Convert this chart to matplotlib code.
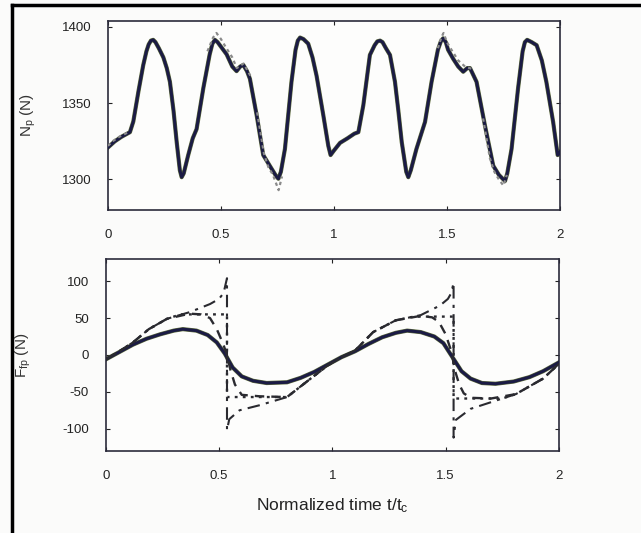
import matplotlib
matplotlib.use("Agg")
import matplotlib.pyplot as plt
from matplotlib.lines import Line2D
import numpy as np

plt.rcParams['font.family'] = ['Liberation Sans', 'DejaVu Sans']
plt.rcParams['mathtext.default'] = 'regular'
plt.rcParams['axes.unicode_minus'] = False

# ---- data: normal force N_p (top panel) ----
np_t = [0.00, 0.03, 0.06, 0.097, 0.112, 0.135, 0.156, 0.17, 0.18, 0.19, 0.20, 0.21, 0.225,
        0.245, 0.26, 0.274, 0.29, 0.304, 0.318, 0.326, 0.335, 0.355, 0.375, 0.392, 0.422,
        0.45, 0.462, 0.473, 0.485, 0.50, 0.525, 0.55, 0.569, 0.585, 0.599, 0.615, 0.628,
        0.658, 0.687, 0.72, 0.745, 0.754, 0.765, 0.783, 0.812, 0.83, 0.84, 0.85, 0.865,
        0.886, 0.905, 0.923, 0.953, 0.975, 0.985, 1.00, 1.027, 1.06, 1.09, 1.108, 1.13,
        1.159, 1.18, 1.192, 1.204, 1.215, 1.23, 1.248, 1.27, 1.285, 1.30, 1.32, 1.329,
        1.34, 1.365, 1.403, 1.432, 1.46, 1.473, 1.483, 1.495, 1.505, 1.528, 1.55, 1.572,
        1.59, 1.602, 1.615, 1.631, 1.668, 1.705, 1.73, 1.75, 1.757, 1.767, 1.786, 1.815,
        1.835, 1.845, 1.855, 1.875, 1.897, 1.92, 1.94, 1.97, 1.99, 2.00]
np_main = [1321, 1325, 1328, 1331, 1338, 1358, 1375, 1384, 1388.5, 1391, 1391.5, 1390, 1386,
           1380, 1373, 1364, 1345, 1324.5, 1306, 1301.5, 1304, 1316, 1327, 1333, 1360,
           1382, 1389, 1391.5, 1390, 1387, 1382, 1374, 1371, 1374, 1375, 1371, 1366,
           1342, 1316, 1308, 1302, 1300.5, 1305, 1320, 1364, 1385, 1391, 1393, 1392,
           1389, 1380, 1368, 1342, 1322, 1316, 1319, 1324, 1327, 1330, 1331, 1348.7,
           1381.6, 1388, 1390.5, 1391, 1390, 1386, 1381.6, 1364, 1345, 1324.5, 1305, 1301.5,
           1306, 1320, 1337.7, 1364, 1385, 1390.5, 1392.5, 1390, 1385, 1379, 1374, 1370.6,
           1373, 1373, 1369, 1364, 1335.5, 1309, 1303, 1300, 1299, 1304, 1320, 1360,
           1384, 1390, 1391.5, 1390, 1388, 1378, 1364, 1337.7, 1316, 1318]

# dotted measured trace, only where it separates from the solid lines (nan = gap)
np_gray_t = [0.00, 0.02, 0.05, 0.09, np.nan, 0.44, 0.465, 0.48, 0.50, 0.52, 0.55, 0.57,
             0.60, 0.63, np.nan, 0.66, 0.69, 0.71, 0.73, 0.745, 0.755, 0.77, np.nan,
             1.46, 1.475, 1.485, 1.50, 1.52, 1.55, 1.58, 1.62, np.nan, 1.66, 1.69, 1.71,
             1.73, 1.75, 1.765]
np_gray = [1322, 1325, 1328, 1331, np.nan, 1384, 1393, 1396, 1392, 1387, 1380, 1373,
           1376, 1368, np.nan, 1344, 1317, 1308, 1303, 1297, 1293, 1302, np.nan,
           1386, 1393, 1396, 1390, 1385, 1378, 1374, 1372, np.nan, 1340, 1314, 1305,
           1300, 1296, 1303]

# ---- data: friction force F_fp (bottom panel) ----
ffp_t = [0.00, 0.06, 0.12, 0.18, 0.24, 0.30, 0.34, 0.40, 0.45, 0.49, 0.525, 0.56, 0.60,
         0.65, 0.71, 0.80, 0.86, 0.92, 0.98, 1.04, 1.10, 1.16, 1.22, 1.28, 1.33, 1.39,
         1.45, 1.49, 1.53, 1.57, 1.61, 1.66, 1.72, 1.80, 1.87, 1.93, 2.00]
ffp_solid = [-6, 4, 14, 22, 28, 33, 35, 33, 27, 17, 2, -17, -29,
             -35, -38, -37, -31, -23, -13, -3, 5, 15, 24, 30, 33, 31,
             25, 16, -3, -22, -32, -38, -39, -36, -30, -22, -10]

dd_t = [0.00, 0.06, 0.12, 0.19, 0.27, 0.37, 0.46, 0.50, 0.52, 0.535, 0.535, 0.545, 0.59,
        0.68, 0.80, 0.90, 0.98, 1.04, 1.10, 1.18, 1.28, 1.39, 1.475, 1.51, 1.525, 1.535,
        1.535, 1.545, 1.61, 1.70, 1.81, 1.93, 2.00]
dd_v = [-6, 5, 17, 35, 49, 58, 69, 76, 84, 104, -102, -87, -75,
        -68, -57, -33, -14, -3, 6, 31, 47, 54, 67, 76, 84, 98,
        -112, -88, -73, -64, -53, -32, -12]

do_t = [0.00, 0.06, 0.12, 0.19, 0.27, 0.33, 0.535, 0.535, 0.80, 0.90, 0.98, 1.04, 1.10,
        1.18, 1.28, 1.36, 1.535, 1.535, 1.75, 1.81, 1.93, 2.00]
do_v = [-6, 5, 17, 35, 49, 55, 55, -57, -57, -33, -14, -3, 6,
        31, 47, 52, 52, -59, -59, -53, -32, -12]

da_t = [0.00, 0.06, 0.12, 0.19, 0.27, 0.37, 0.42, 0.46, 0.49, 0.518, 0.535, 0.55, 0.57,
        0.60, 0.68, 0.80, 0.90, 0.98, 1.04, 1.10, 1.18, 1.28, 1.39, 1.44, 1.47, 1.50,
        1.526, 1.54, 1.56, 1.58, 1.61, 1.70, 1.81, 1.93, 2.00]
da_v = [-6, 5, 17, 35, 49, 56, 55, 50, 35, 15, 0, -20, -40,
        -54, -56, -57, -33, -14, -3, 6, 31, 47, 53, 51, 45, 28,
        4, -20, -40, -52, -58, -59, -53, -32, -12]

x_ticks = [0, 0.5, 1, 1.5, 2]
x_labels = ['0', '0.5', '1', '1.5', '2']
np_ticks = [1300, 1350, 1400]
ffp_ticks = [-100, -50, 0, 50, 100]

navy = '#1b1b44'
olive = '#5d6b3c'
gray = '#8a8a8a'
dark = '#2a2a30'

fig = plt.figure(figsize=(6.41, 5.33), dpi=100)
fig.patch.set_facecolor('#fbfbfa')

ax1 = fig.add_axes([0.1685, 0.606, 0.705, 0.355])
ax2 = fig.add_axes([0.165, 0.154, 0.707, 0.360])

# top panel
ax1.plot(np_t, np_main, color=olive, lw=3.0, zorder=2, solid_joinstyle='round')
ax1.plot(np_t, np_main, color=navy, lw=2.2, zorder=3, solid_joinstyle='round')
ax1.plot(np_gray_t, np_gray, color=gray, lw=1.6, ls=(0, (1.5, 1.5)), zorder=4)
ax1.set_xlim(0, 2)
ax1.set_ylim(1280, 1404)
ax1.set_yticks(np_ticks)
ax1.set_ylabel('N$_p$ (N)', fontsize=11, color='#333333')
ax1.yaxis.set_label_coords(-0.155, 0.5)

# bottom panel
ax2.plot(ffp_t, ffp_solid, color=olive, lw=3.0, zorder=2, solid_joinstyle='round')
ax2.plot(ffp_t, ffp_solid, color=navy, lw=2.2, zorder=3, solid_joinstyle='round')
ax2.plot(dd_t, dd_v, color=dark, lw=1.5, ls=(0, (6, 3, 1.5, 3)), zorder=4)
ax2.plot(do_t, do_v, color=dark, lw=1.7, ls=(0, (1.2, 2.2)), zorder=4)
ax2.plot(da_t, da_v, color=dark, lw=1.7, ls=(0, (4, 3)), zorder=4)
ax2.set_xlim(0, 2)
ax2.set_ylim(-130, 130)
ax2.set_yticks(ffp_ticks)
ax2.set_ylabel('F$_{fp}$ (N)', fontsize=11, color='#333333')
ax2.yaxis.set_label_coords(-0.16, 0.5)
ax2.set_xlabel('Normalized time t/t$_c$', fontsize=12.5, color='#222222', labelpad=10)

for ax in (ax1, ax2):
    ax.set_facecolor('#fdfdfc')
    ax.set_xticks(x_ticks)
    ax.set_xticklabels(x_labels)
    ax.tick_params(direction='in', top=True, right=True, length=3, width=0.8,
                   labelsize=9.5, colors='#222222')
    ax.tick_params(axis='x', pad=14)
    ax.tick_params(axis='y', pad=12)
    for sp in ax.spines.values():
        sp.set_color('#2b2b3b')
        sp.set_linewidth(1.2)

# scan frame lines (top and left)
fig.add_artist(Line2D([12 / 641, 1.0], [1 - 5 / 533, 1 - 5 / 533],
                      transform=fig.transFigure, color='black', lw=2.5))
fig.add_artist(Line2D([12 / 641, 12 / 641], [0, 1 - 5 / 533],
                      transform=fig.transFigure, color='black', lw=2.5))

fig.savefig('out.png', dpi=100, facecolor=fig.get_facecolor())
